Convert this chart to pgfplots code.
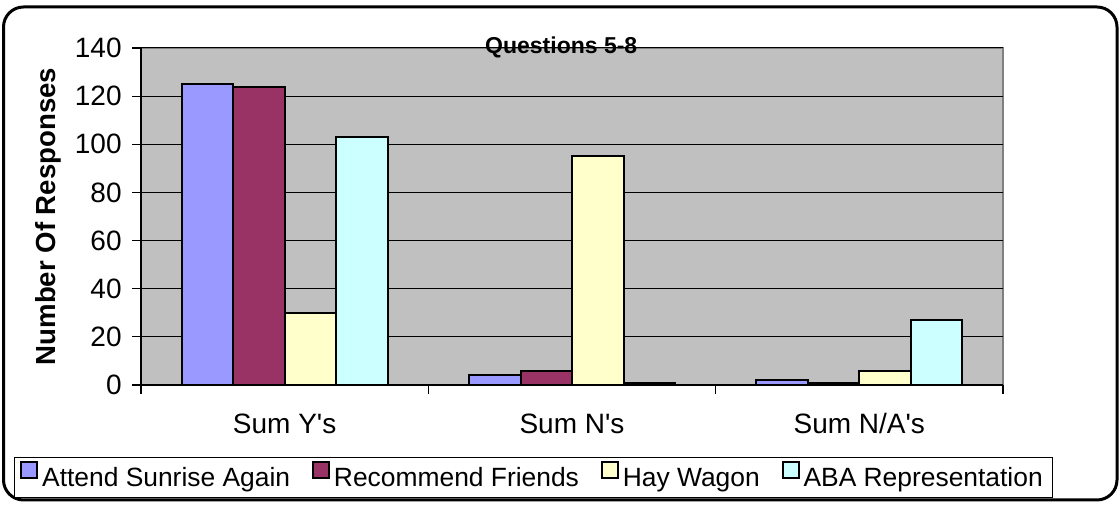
\documentclass[border=0pt]{standalone}
\usepackage{fontspec}
\setmainfont{Liberation Sans}
\newfontfamily\plainarial{Liberation Sans}
\usepackage{pgfplots}
\pgfplotsset{compat=1.18}
\definecolor{cA}{RGB}{153,153,255}
\definecolor{cB}{RGB}{153,51,102}
\definecolor{cC}{RGB}{255,255,204}
\definecolor{cD}{RGB}{204,255,255}
\definecolor{plotbg}{RGB}{192,192,192}
\definecolor{frameg}{RGB}{128,128,128}
\pgfplotsset{sqlegend/.style={legend image code/.code={\draw[##1,draw=black,line width=0.9pt] (0.5pt,0.2pt) rectangle (8.5pt,8.2pt);}}}
\begin{document}
\begin{tikzpicture}
\path[use as bounding box] (0,0) rectangle (560pt,253pt);
\draw[line width=1.5pt, rounded corners=10pt] (1.75pt,3pt) rectangle (558.5pt,249.5pt);
\begin{axis}[
  at={(70.5pt,60.5pt)}, anchor=south west,
  scale only axis, width=431pt, height=168.5pt,
  ybar=0pt, bar width=25.75pt,
  xmin=-0.5, xmax=2.5, ymin=0, ymax=140,
  axis background/.style={fill=plotbg, draw=frameg, line width=1pt},
  axis x line*=bottom, axis y line*=left,
  axis line style={black, line width=0.75pt},
  tick align=outside, major tick length=4.5pt,
  tick style={black, line width=0.6pt},
  ytick={0,20,...,140},
  ymajorgrids, major grid style={black, line width=0.5pt},
  xtick={-0.5,0.5,1.5,2.5}, xticklabels={},
  extra x ticks={0,1,2}, extra x tick labels={{\plainarial Sum Y's}, {\plainarial Sum N's}, {\plainarial Sum N/A's}},
  extra x tick style={major tick length=0pt, xticklabel style={anchor=base, yshift=-24.5pt}},
  ticklabel style={font=\fontsize{14}{16}\selectfont},
  /pgf/number format/assume math mode=true,
  yticklabel style={anchor=east, inner sep=0pt, xshift=-5pt},
  title={Questions 5-8},
  title style={at={(0.4875,1)}, anchor=base, yshift=-9pt, font=\fontsize{11.5}{13}\selectfont\bfseries},
  ylabel={Number Of Responses},
  ylabel style={at={(axis description cs:-0.108,0.5)}, anchor=center, font=\fontsize{13.8}{16}\selectfont\bfseries},
  legend columns=4,
  legend style={at={(-0.1475,-0.2136)}, anchor=north west, draw=black, line width=0.5pt,
    font=\fontsize{13.2}{15}\selectfont, inner xsep=3pt, inner ysep=2pt,
    /tikz/every even column/.append style={column sep=9pt}},
]
\addplot[sqlegend, fill=cA, draw=black, line width=1pt] coordinates {(0,125) (1,4) (2,2)};
\addplot[sqlegend, fill=cB, draw=black, line width=1pt] coordinates {(0,124) (1,6) (2,1)};
\addplot[sqlegend, fill=cC, draw=black, line width=1pt] coordinates {(0,30) (1,95) (2,6)};
\addplot[sqlegend, fill=cD, draw=black, line width=1pt] coordinates {(0,103) (1,1) (2,27)};
\legend{Attend Sunrise Again, Recommend Friends, Hay Wagon, ABA Representation}
\end{axis}
\end{tikzpicture}
\end{document}
